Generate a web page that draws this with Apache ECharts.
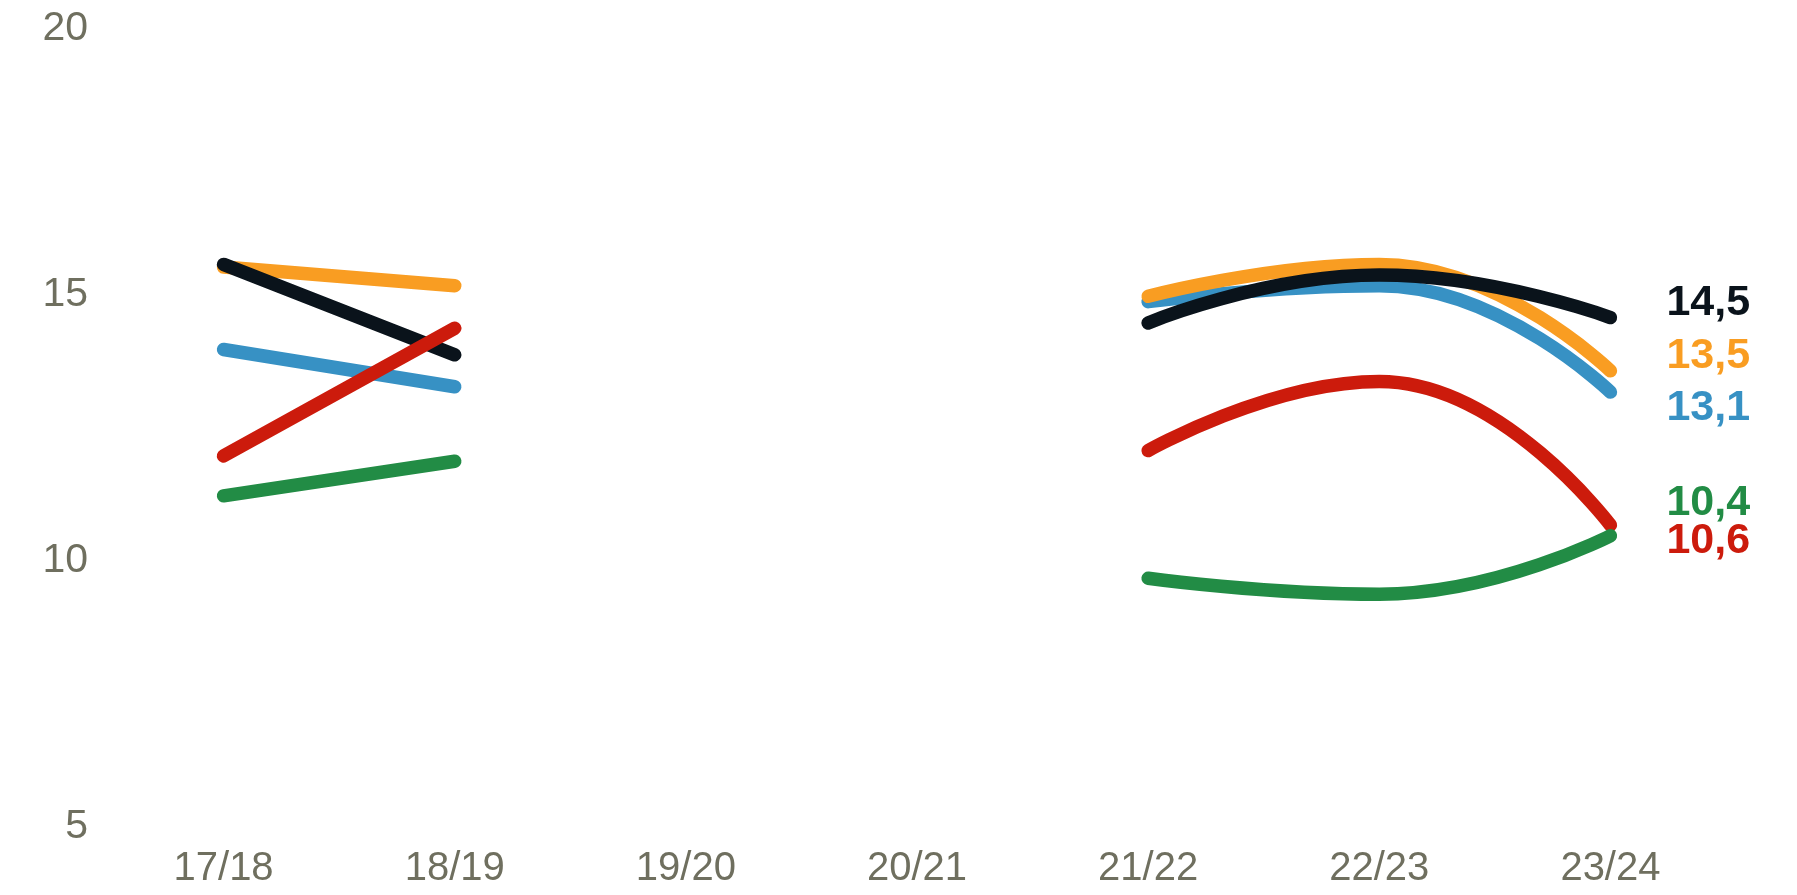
<!DOCTYPE html>
<html>
<head>
<meta charset="utf-8">
<style>
  html, body { margin: 0; padding: 0; background: #fff; }
  #chart { width: 1797px; height: 895px; }
</style>
<script src="https://cdn.jsdelivr.net/npm/echarts@6/dist/echarts.min.js"></script>
</head>
<body>
<div id="chart"></div>
<script>
// skoleår
const years = ["17/18", "18/19", "19/20", "20/21", "21/22", "22/23", "23/24"];
const yTicks = [5, 10, 15, 20];

// verdier per serie (null = ingen data)
const blueVals = [13.9, 13.2, null, null, 14.8, 15.1, 13.1];
const orangeVals = [15.45, 15.1, null, null, 14.9, 15.5, 13.5];
const blackVals = [15.5, 13.8, null, null, 14.4, 15.3, 14.5];
const redVals = [11.9, 14.3, null, null, 12.0, 13.3, 10.6];
const greenVals = [11.15, 11.8, null, null, 9.6, 9.3, 10.4];

const chart = echarts.init(document.getElementById("chart"));

function makeSeries(name, data, color, labelOffsetY) {
  return {
    name: name,
    type: "line",
    data: data,
    smooth: 0.5,
    connectNulls: false,
    showSymbol: false,
    symbol: "none",
    lineStyle: { width: 13.5, color: color, cap: "round", join: "round" },
    itemStyle: { color: color },
    endLabel: {
      show: true,
      distance: 56,
      offset: [0, labelOffsetY],
      color: color,
      fontFamily: "Liberation Sans, Arial, sans-serif",
      fontWeight: "bold",
      fontSize: 43,
      formatter: (p) => p.value.toFixed(1).replace(".", ","),
    },
    emphasis: { disabled: true },
  };
}

const option = {
  animation: false,
  backgroundColor: "#ffffff",
  grid: {
    left: 108,
    right: 71,
    top: 25,
    bottom: 72,
    containLabel: false,
  },
  xAxis: {
    type: "category",
    data: years,
    boundaryGap: true,
    axisLine: { show: false },
    axisTick: { show: false },
    axisLabel: {
      color: "#6f6f5f",
      fontSize: 40,
      fontFamily: "Liberation Sans, Arial, sans-serif",
      margin: 26,
    },
  },
  yAxis: {
    type: "value",
    min: yTicks[0],
    max: yTicks[yTicks.length - 1],
    interval: 5,
    axisLine: { show: false },
    axisTick: { show: false },
    splitLine: { show: false },
    axisLabel: {
      color: "#6f6f5f",
      fontSize: 41,
      fontFamily: "Liberation Sans, Arial, sans-serif",
      margin: 20,
      verticalAlign: "top",
      lineHeight: 8,
    },
  },
  series: [
    makeSeries("blå", blueVals, "#3791c4", 16),
    makeSeries("oransje", orangeVals, "#f99d22", -15),
    makeSeries("svart", blackVals, "#0a131b", -14),
    makeSeries("rød", redVals, "#cc1b0c", 16),
    makeSeries("grønn", greenVals, "#228c45", -33),
  ],
};

chart.setOption(option);
</script>
</body>
</html>
